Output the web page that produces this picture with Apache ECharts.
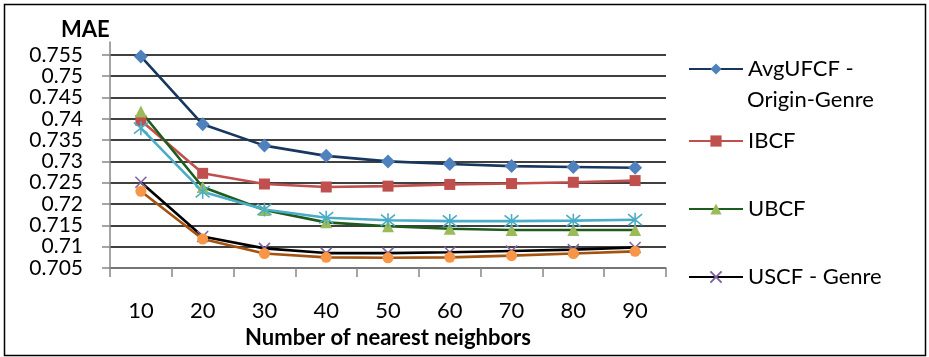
<!DOCTYPE html>
<html><head><meta charset="utf-8">
<script src="https://cdn.jsdelivr.net/npm/echarts@6/dist/echarts.min.js"></script>
<style>html,body{margin:0;padding:0;background:#fff}#c{width:929px;height:357px}</style>
</head><body><div id="c"></div>
<script>
const categories = ['10','20','30','40','50','60','70','80','90'];
const avgUFCF    = [0.7546,0.7387,0.7337,0.7313,0.7300,0.7294,0.7289,0.7287,0.7285];
const ibcf       = [0.7396,0.7272,0.7247,0.7240,0.7242,0.7246,0.7248,0.7251,0.7255];
const ubcf       = [0.7417,0.7240,0.7186,0.7157,0.7148,0.7142,0.7139,0.7139,0.7139];
const starSeries = [0.7378,0.7229,0.7187,0.7168,0.7162,0.7160,0.7160,0.7161,0.7163];
const uscfGenre  = [0.7251,0.7124,0.7096,0.7085,0.7085,0.7087,0.7090,0.7093,0.7098];
const circSeries = [0.7230,0.7118,0.7084,0.7075,0.7074,0.7075,0.7079,0.7084,0.7089];
const yMin = 0.705, yMax = 0.758, yStep = 0.005;
const legendNames = ['AvgUFCF - ', 'IBCF', 'UBCF', 'USCF - Genre'];

const FONT = 'Lato';
const chart = echarts.init(document.getElementById('c'));
const xPath = 'path://M0,0L10,10M10,0L0,10';
const starPath = 'path://M5,0L5,10M1,1L9,9M9,1L1,9';

function legendAt(name, top) {
  return {
    data: [name], left: 688, top: top, orient: 'vertical',
    itemWidth: 54, itemHeight: 14, padding: 0,
    selectedMode: false,
    textStyle: { fontFamily: FONT, fontSize: 22, color: '#000', lineHeight: 26 }
  };
}

chart.setOption({
  animation: false,
  backgroundColor: '#fff',
  grid: { left: 110, right: 263, top: 42, bottom: 89 },
  title: { text: 'MAE', left: 56, top: 14, textStyle: { fontFamily: FONT, fontSize: 22, fontWeight: 'bold', color: '#000' } },
  legend: [
    legendAt(legendNames[0], 56),
    legendAt(legendNames[1], 128),
    legendAt(legendNames[2], 196),
    legendAt(legendNames[3], 264)
  ],
  xAxis: {
    type: 'category', data: categories, boundaryGap: true,
    name: 'Number of nearest neighbors', nameLocation: 'middle', nameGap: 57,
    nameTextStyle: { fontFamily: FONT, fontSize: 22, fontWeight: 'bold', color: '#000' },
    axisLine: { lineStyle: { color: '#868686', width: 1.5 } },
    axisTick: { show: true, length: 9, alignWithLabel: false, lineStyle: { color: '#868686', width: 1.5 } },
    axisLabel: { fontFamily: FONT, fontSize: 22, color: '#000', margin: 32 },
    splitLine: { show: false }
  },
  yAxis: {
    type: 'value', min: yMin, max: yMax, interval: yStep,
    axisLine: { show: true, lineStyle: { color: '#868686', width: 1.5 } },
    axisTick: { show: true, length: 8, lineStyle: { color: '#868686', width: 1.5 } },
    axisLabel: {
      fontFamily: FONT, fontSize: 21, lineHeight: 18, color: '#000', margin: 27,
      showMaxLabel: false, showMinLabel: true, hideOverlap: false,
      formatter: v => String(parseFloat(v.toFixed(3)))
    },
    splitLine: { show: true, showMaxLine: false, lineStyle: { color: '#000', width: 1.6 } }
  },
  series: [
    { name: 'AvgUFCF - ', type: 'line', data: avgUFCF, symbol: 'diamond', symbolSize: 14,
      lineStyle: { color: '#17375E', width: 2.6 }, itemStyle: { color: '#4F81BD' } },
    { name: 'IBCF', type: 'line', data: ibcf, symbol: 'rect', symbolSize: 11,
      lineStyle: { color: '#C0504D', width: 2.6 }, itemStyle: { color: '#C0504D' } },
    { name: 'UBCF', type: 'line', data: ubcf, symbol: 'triangle', symbolSize: 12,
      lineStyle: { color: '#1E5C1E', width: 2.6 }, itemStyle: { color: '#9BBB59' } },
    { name: 'Series4', type: 'line', data: starSeries, symbol: starPath, symbolSize: 14,
      lineStyle: { color: '#4BACC6', width: 2.6 }, itemStyle: { color: 'transparent', borderColor: '#4BACC6', borderWidth: 1.6 } },
    { name: 'USCF - Genre', type: 'line', data: uscfGenre, symbol: xPath, symbolSize: 11,
      lineStyle: { color: '#000', width: 2.6 }, itemStyle: { color: 'transparent', borderColor: '#8064A2', borderWidth: 1.6 } },
    { name: 'Series6', type: 'line', data: circSeries, symbol: 'circle', symbolSize: 11,
      lineStyle: { color: '#A5520F', width: 2.6 }, itemStyle: { color: '#F79646' } }
  ],
  graphic: [
    { type: 'rect', shape: { x: 4.5, y: 4.5, width: 921, height: 351 }, style: { fill: 'none', stroke: '#000', lineWidth: 1.5 }, silent: true },
    { type: 'text', left: 747, top: 89, style: { text: 'Origin-Genre', font: '22px Lato', fill: '#000' }, silent: true }
  ]
});
</script>
</body></html>
